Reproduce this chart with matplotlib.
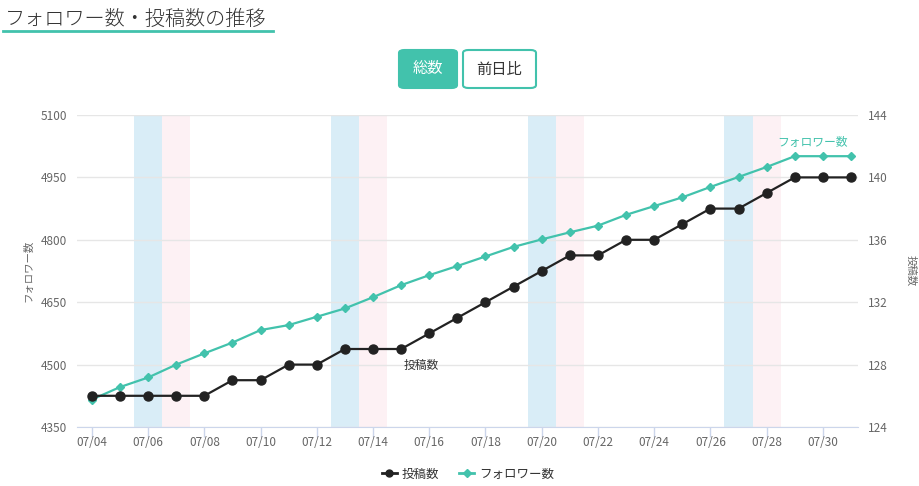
import matplotlib
matplotlib.use('Agg')
from matplotlib import pyplot as plt
from matplotlib.patches import FancyBboxPatch
from matplotlib.lines import Line2D
import numpy as np

plt.rcParams['font.family'] = ['Noto Sans CJK JP', 'DejaVu Sans']

dates = ['07/%02d' % d for d in range(4, 32)]
followers = [4416, 4446, 4469, 4500, 4527, 4553, 4583, 4595, 4615, 4635,
             4662, 4691, 4715, 4737, 4760, 4783, 4801, 4818, 4834, 4860,
             4881, 4902, 4927, 4951, 4975, 5001, 5001, 5001]
posts = [126, 126, 126, 126, 126, 127, 127, 128, 128, 129,
         129, 129, 130, 131, 132, 133, 134, 135, 135, 136,
         136, 137, 138, 138, 139, 140, 140, 140]
saturdays = ['07/06', '07/13', '07/20', '07/27']
sundays = ['07/07', '07/14', '07/21', '07/28']

teal = '#42c2ac'
grey_text = '#666666'

fig = plt.figure(figsize=(9.19, 4.86), dpi=100)
W, H = 919, 486
ax = fig.add_axes([77 / W, (H - 427) / H, (858 - 77) / W, 312 / H])
ax2 = ax.twinx()

x = np.arange(len(dates))

for d in saturdays:
    i = dates.index(d)
    ax.axvspan(i - 0.5, i + 0.5, color='#d9edf7', lw=0, zorder=0)
for d in sundays:
    i = dates.index(d)
    ax.axvspan(i - 0.5, i + 0.5, color='#fdf1f4', lw=0, zorder=0)

ax.plot(x, followers, color=teal, lw=1.6, marker='D', ms=4.5, zorder=3)
ax2.plot(x, posts, color='#222222', lw=1.6, marker='o', ms=6.5, zorder=3)

ax.set_xlim(-0.53, 27.25)
ax.set_ylim(4350, 5100)
ax.set_yticks(np.arange(4350, 5101, 150))
ax2.set_ylim(124, 144)
ax2.set_yticks(np.arange(124, 145, 4))

ax.set_xticks(x[::2])
ax.set_xticklabels(dates[::2])

ax.grid(axis='y', color='#e6e6e6', lw=1, zorder=1)
ax.set_axisbelow(True)

for a in (ax, ax2):
    for s in ['top', 'left', 'right', 'bottom']:
        a.spines[s].set_visible(False)
ax.spines['bottom'].set_visible(True)
ax.spines['bottom'].set_color('#ccd6eb')

ax.tick_params(axis='x', colors='#ccd6eb', length=7.2, width=1, labelcolor=grey_text,
               labelsize=8.5, pad=-0.4)
ax.tick_params(axis='y', length=0, labelcolor=grey_text, labelsize=8.5, pad=7)
ax2.tick_params(axis='y', length=0, labelcolor=grey_text, labelsize=8.5, pad=7)

ax.set_ylabel('フォロワー数', color=grey_text, fontsize=7.5)
ax.yaxis.set_label_coords((33 - 77) / 781, 0.5)
ax2.set_ylabel('投稿数', color=grey_text, fontsize=7.5, rotation=270, va='center')
ax2.yaxis.set_label_coords((911 - 77) / 781, 0.5)

ax2.annotate('投稿数', xy=(x[dates.index('07/15')], posts[dates.index('07/15')]),
             xytext=(2, -12), textcoords='offset points', fontsize=8.5,
             color='#333333', va='center', ha='left')
ax.annotate('フォロワー数', xy=(x[-1], followers[-1]), xytext=(-2, 10),
            textcoords='offset points', fontsize=8.5, color=teal,
            va='center', ha='right')

# title
fig.text(5 / W, 1 - 19 / H, 'フォロワー数・投稿数の推移', fontsize=14.5,
         color='#333333', va='center', ha='left', fontweight='light')
fig.add_artist(Line2D([3 / W, 273 / W], [1 - 31 / H, 1 - 31 / H],
                      color=teal, lw=2))

# buttons
b1 = FancyBboxPatch((399 / W, 1 - 88 / H), 58 / W, 38 / H,
                    boxstyle='round,pad=0,rounding_size=0.006',
                    transform=fig.transFigure, fc=teal, ec=teal, lw=1.5)
b2 = FancyBboxPatch((463 / W, 1 - 88 / H), 73 / W, 38 / H,
                    boxstyle='round,pad=0,rounding_size=0.006',
                    transform=fig.transFigure, fc='white', ec=teal, lw=1.5)
fig.add_artist(b1)
fig.add_artist(b2)
fig.text(428 / W, 1 - 69 / H, '総数', fontsize=11, color='white',
         ha='center', va='center')
fig.text(499.5 / W, 1 - 69 / H, '前日比', fontsize=11, color='#333333',
         ha='center', va='center')

# legend
h1 = Line2D([], [], color='#222222', lw=2, marker='o', ms=5)
h2 = Line2D([], [], color=teal, lw=2, marker='D', ms=4)
fig.legend(handles=[h1, h2], labels=['投稿数', 'フォロワー数'], loc='center',
           bbox_to_anchor=(468 / W, 1 - 474 / H), ncol=2, frameon=False,
           fontsize=9, handlelength=1.2, handletextpad=0.4, columnspacing=1.6,
           labelcolor='#333333')

plt.savefig('out.png', dpi=100)
